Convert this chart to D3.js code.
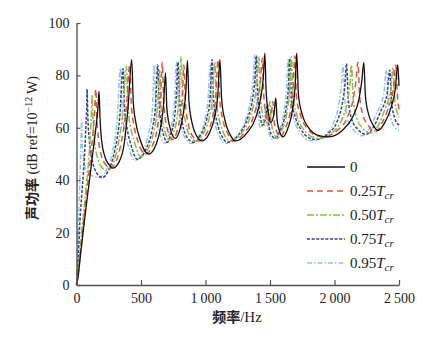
<!DOCTYPE html>
<html>
<head>
<meta charset="utf-8">
<script src="https://cdn.jsdelivr.net/npm/d3@7"></script>
<style>
  body { margin: 0; background: #fff; }
  svg { display: block; }
</style>
</head>
<body>
<div id="app"></div>
<script>
const xTicks = [0, 500, 1000, 1500, 2000, 2500];
const yTicks = [0, 20, 40, 60, 80, 100];
const seriesLabels = ['0', '0.25', '0.50', '0.75', '0.95'];

// sound power [Hz, dB], one list per tension ratio
const tension0 = [[0,0],[12,3],[30,11],[51,20],[75,30],[98,39],[118,47],[138,55],[155,62],[167,68],[175,74],
  [182,64],[195,55],[220,49],[250,46],[281,44.6],
  [330,47],[370,54],[400,68],[428,86],
  [440,70],[460,62],[490,56],[560,50],
  [620,54],[655,61],[675,69],[690,81],
  [700,68],[720,61],[765,56],
  [800,59],[830,66],[848,74],[860,85.6],
  [872,70],[895,62],[930,57],[975,55],
  [1030,58],[1070,64],[1095,72],[1112,86],
  [1125,71],[1150,63],[1190,57.5],[1230,55],
  [1320,58],[1390,64],[1430,72],[1448,79],[1460,88.5],
  [1470,74],[1490,65],[1505,62],
  [1530,65],[1545,71.4],[1555,63],[1575,58.5],[1600,56.5],
  [1640,60],[1675,67],[1695,76],[1707,88.5],
  [1720,73],[1750,65],[1800,60],[1880,57],[1950,56.5],
  [2060,59],[2140,64],[2190,71],[2212,78],[2227,85],
  [2240,72],[2265,65],[2300,61],[2335,59],
  [2390,62],[2440,68],[2472,75],[2490,84],
  [2500,76]];

const tension25 = [[0,0],[10,3],[28,11],[46,20],[68,30],[88,39],[108,48],[126,57],[140,66],[150,74.8],
  [157,65],[170,56],[195,49],[225,46],[255,44.5],
  [305,47],[345,54],[385,67],[413,84],
  [425,69],[445,61],[475,55],[535,50],
  [595,54],[630,61],[650,70],[665,85],
  [676,70],[697,61],[745,55.5],
  [775,58],[805,65],[822,73],[832,84],
  [845,69],[868,61],[905,56.5],[950,55],
  [1010,58],[1055,64],[1080,72],[1097,86],
  [1110,71],[1135,63],[1175,57.5],[1210,55],
  [1300,58],[1370,64],[1410,72],[1428,79],[1441,86.5],
  [1451,73],[1470,65],[1485,62],
  [1508,64.5],[1522,70],[1532,62.5],[1552,58.5],[1580,56.5],
  [1620,60],[1660,67],[1680,76],[1692,87.5],
  [1705,72],[1735,65],[1785,60],[1860,57],[1920,56.5],
  [2020,59],[2100,64],[2145,71],[2167,78],[2182,85],
  [2195,72],[2220,65],[2260,61],[2315,58.5],
  [2370,62],[2420,68],[2457,75],[2475,84],
  [2488,72],[2500,67]];

const tension50 = [[0,0],[8,3],[24,11],[40,20],[60,30],[78,39],[95,48],[108,58],[116,66],[121,72.5],
  [128,63],[142,54],[170,47.5],[205,44.5],[235,43.5],
  [280,46],[320,53],[360,66],[387,83.5],
  [399,68],[420,60],[450,54.5],[495,49],
  [565,53],[605,60],[628,68],[645,82],
  [656,68],[678,60],[725,55],
  [752,58],[782,65],[798,74],[810,87],
  [823,71],[846,62],[885,56.5],[925,55],
  [985,58],[1030,64],[1055,72],[1072,85],
  [1085,70],[1110,62.5],[1150,57],[1190,55],
  [1280,58],[1345,64],[1385,72],[1402,79],[1415,87],
  [1425,73],[1445,64],[1460,61],
  [1486,64],[1500,70],[1510,62],[1530,58],[1560,56],
  [1595,59.5],[1635,67],[1655,76],[1666,87],
  [1680,72],[1710,64.5],[1760,59.5],[1830,56.5],[1890,56],
  [1990,58.5],[2060,63.5],[2100,70],[2120,77],[2131,84],
  [2145,71],[2170,64],[2215,60],[2280,58],
  [2340,61],[2390,67],[2435,74],[2454,83],
  [2467,71],[2485,66],[2500,64]];

const tension75 = [[0,0],[6,4],[16,13],[26,24],[40,34],[55,44],[66,53],[75,63],[80,69],[82,74.8],
  [88,64],[100,55],[125,47],[160,42.5],[200,41],
  [250,44],[295,51],[335,64],[361,82.5],
  [373,67],[395,59],[425,53],[470,48],
  [540,52],[585,59],[612,68],[630,84],
  [641,69],[662,60],[705,54.5],
  [730,57.5],[760,64],[775,73],[787,85],
  [800,70],[822,61.5],[862,56],[905,54.5],
  [965,57.5],[1010,63.5],[1035,71],[1051,86],
  [1064,70],[1090,62],[1130,56.5],[1170,54.5],
  [1260,57.5],[1325,63.5],[1365,71],[1382,78],[1395,87.5],
  [1405,73],[1425,64],[1440,61],
  [1466,63.5],[1480,69],[1490,61.5],[1510,57.5],[1540,56],
  [1580,59],[1622,66.5],[1642,75],[1653,86.5],
  [1667,71],[1697,64],[1745,59],[1810,56],[1860,55.5],
  [1955,58],[2025,63],[2063,70],[2082,77],[2093,84.5],
  [2107,71],[2132,63.5],[2180,59.5],[2245,57.5],
  [2305,60.5],[2355,66],[2408,73],[2428,82],
  [2442,70],[2465,64],[2500,61]];

const tension95 = [[0,0],[4,5],[10,15],[17,26],[24,37],[30,47],[35,56],[39,63],
  [44,55],[58,47],[85,43],[130,41.5],[175,41],
  [225,43.5],[275,50],[315,63],[341,82.8],
  [353,67],[375,58.5],[405,52.5],[455,47.5],
  [520,51.5],[562,58.5],[588,67],[603,84],
  [614,69],[636,60],[685,54],
  [715,57],[745,63.5],[762,72],[775,85],
  [788,70],[810,61],[850,55.5],[890,54],
  [950,57],[995,63],[1020,71],[1037,84],
  [1050,69],[1075,61.5],[1115,56],[1150,54],
  [1245,57],[1310,63],[1350,71],[1369,78],[1382,88],
  [1392,73],[1410,64],[1425,60],
  [1455,63],[1470,68],[1480,61],[1498,57],[1525,55.5],
  [1565,58.5],[1608,66],[1628,75],[1640,86],
  [1654,71],[1684,63.5],[1730,58.5],[1790,55.5],[1835,55],
  [1930,57.5],[1998,62.5],[2037,70],[2055,77],[2066,84],
  [2080,70.5],[2105,63],[2150,59],[2215,57],
  [2275,60],[2325,65.5],[2382,73],[2402,82],
  [2416,70],[2440,63],[2470,60],[2500,59]];

const seriesData = [tension0, tension25, tension50, tension75, tension95];
const colors = ['#111111', '#e5543a', '#86c23f', '#3c3d8f', '#8dc6e2'];
const dashes = [null, '6,4', '7,2,2,2', '3,1.6', '5,2,1.5,2'];

const W = 433, H = 349;

const svg = d3.select('#app').append('svg')
  .attr('width', W)
  .attr('height', H);

const x = d3.scaleLinear().domain([0, 2500]).range([76.5, 399]);
const y = d3.scaleLinear().domain([0, 100]).range([285, 23]);

const fmt = d => d >= 1000 ? d3.format(',')(d).replace(',', '\u2009') : String(d);

// curves, black on top
const line = d3.line()
  .x(d => x(d[0]))
  .y(d => y(d[1]))
  .curve(d3.curveMonotoneX);

for (let i = seriesData.length - 1; i >= 0; i--) {
  svg.append('path')
    .datum(seriesData[i])
    .attr('fill', 'none')
    .attr('stroke', colors[i])
    .attr('stroke-width', i === 0 ? 1.3 : 1.5)
    .attr('stroke-dasharray', dashes[i])
    .attr('d', line);
}

// axes
const xAxis = d3.axisBottom(x).tickValues(xTicks).tickFormat(fmt).tickSizeInner(-5).tickSizeOuter(0).tickPadding(8);
const yAxis = d3.axisLeft(y).tickValues(yTicks).tickSizeInner(-4).tickSizeOuter(0).tickPadding(7);

const gx = svg.append('g')
  .attr('transform', 'translate(0,285)')
  .call(xAxis);

const gy = svg.append('g')
  .attr('transform', 'translate(76.5,0)')
  .call(yAxis);

[gx, gy].forEach(g => {
  g.select('.domain').attr('stroke', '#555').attr('stroke-width', 1.4);
  g.selectAll('.tick line').attr('stroke', '#555').attr('stroke-width', 1.2);
  g.selectAll('.tick text')
    .attr('fill', '#222')
    .style('font-family', '"Liberation Serif", "DejaVu Serif", serif')
    .style('font-size', '14px');
});

// axis titles
svg.append('text')
  .attr('x', 237)
  .attr('y', 322)
  .attr('text-anchor', 'middle')
  .attr('fill', '#222')
  .style('font-size', '14px')
  .style('font-weight', 'bold')
  .style('font-family', '"Noto Sans CJK SC", sans-serif')
  .text('频率')
  .append('tspan')
  .style('font-family', '"Liberation Serif", serif')
  .style('font-weight', 'normal')
  .style('font-size', '15px')
  .text('/Hz');

const yTitle = svg.append('text')
  .attr('transform', 'translate(37,148) rotate(-90)')
  .attr('text-anchor', 'middle')
  .attr('fill', '#222')
  .style('font-size', '14px')
  .style('font-family', '"Liberation Serif", serif');

yTitle.append('tspan')
  .style('font-family', '"Noto Sans CJK SC", sans-serif')
  .style('font-weight', 'bold')
  .text('声功率');
yTitle.append('tspan').text(' (dB ref=10');
yTitle.append('tspan')
  .attr('dy', -5)
  .style('font-size', '10px')
  .text('\u221212');
yTitle.append('tspan')
  .attr('dy', 5)
  .text('\u2009W)');

// legend
const legend = svg.append('g');
seriesLabels.forEach((lab, i) => {
  const ly = 167 + i * 24;
  legend.append('line')
    .attr('x1', 307).attr('x2', 345)
    .attr('y1', ly).attr('y2', ly)
    .attr('stroke', colors[i])
    .attr('stroke-width', i === 0 ? 1.5 : 1.4)
    .attr('stroke-dasharray', dashes[i]);
  const t = legend.append('text')
    .attr('x', 350)
    .attr('y', ly + 5)
    .attr('fill', '#222')
    .style('font-family', '"Liberation Serif", serif')
    .style('font-size', '15px')
    .text(lab);
  if (i > 0) {
    t.append('tspan').style('font-style', 'italic').text('T');
    t.append('tspan')
      .style('font-style', 'italic')
      .style('font-size', '11px')
      .attr('dy', 3)
      .text('cr');
  }
});
</script>
</body>
</html>
